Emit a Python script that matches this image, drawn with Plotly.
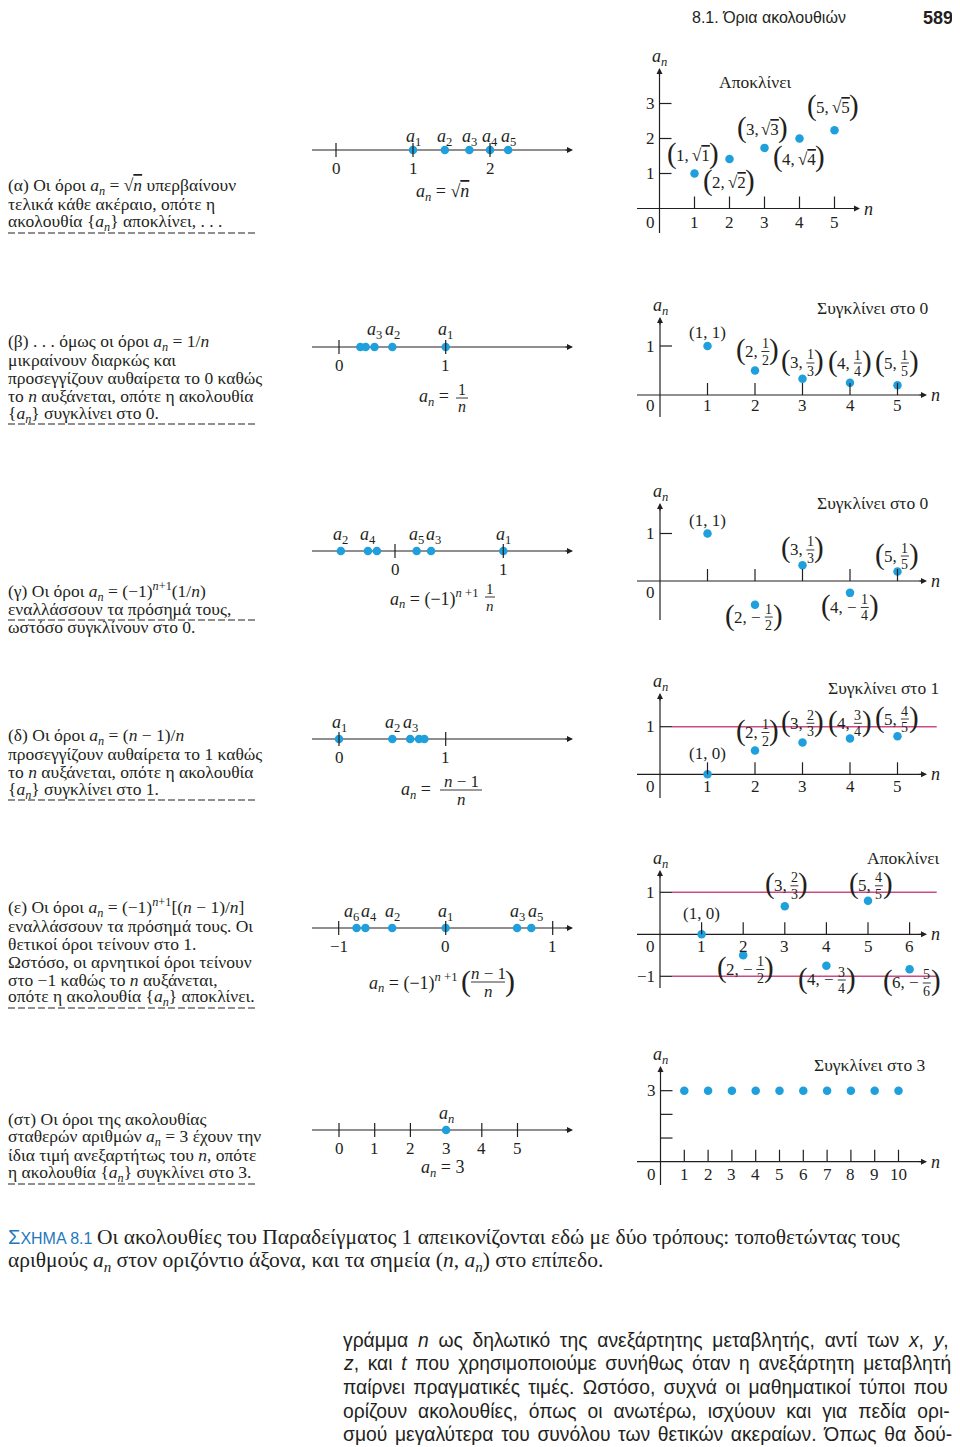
import plotly.graph_objects as go

PAGE_W, PAGE_H = 960, 1447
OFF = 8                      # the page body margin
W, H = PAGE_W - OFF, PAGE_H - OFF
SERIF = "Liberation Serif, Times New Roman, serif"
SANS = "Liberation Sans, Arial, sans-serif"
INK = "#231f20"
DOT = "#1f9fdb"
PINK = "#cc4a86"
BLUE = "#1f78bd"
OVL = '<span style="text-decoration:overline">%s</span>'

# ---------------- data ----------------
# (α) a_n = sqrt(n)
alpha_n = [1, 2, 3, 4, 5]
alpha_an = [1.0, 1.414, 1.732, 2.0, 2.236]
alpha_line_ticks = [0, 1, 2]
alpha_x_ticks = [1, 2, 3, 4, 5]
alpha_y_ticks = [1, 2, 3]
alpha_line_labels = [1, 2, 3, 4, 5]
alpha_pt_text = [("root", "1,", "1"), ("root", "2,", "2"), ("root", "3,", "3"),
                 ("root", "4,", "4"), ("root", "5,", "5")]

# (β) a_n = 1/n
beta_n = [1, 2, 3, 4, 5]
beta_an = [1.0, 0.5, 0.333, 0.25, 0.2]
beta_line_ticks = [0, 1]
beta_x_ticks = [1, 2, 3, 4, 5]
beta_y_ticks = [1]
beta_line_labels = [1, 2, 3]
beta_pt_text = [("plain", "(1, 1)"), ("frac", "2,", "1", "2"), ("frac", "3,", "1", "3"),
                ("frac", "4,", "1", "4"), ("frac", "5,", "1", "5")]

# (γ) a_n = (-1)^(n+1) (1/n)
gamma_n = [1, 2, 3, 4, 5]
gamma_an = [1.0, -0.5, 0.333, -0.25, 0.2]
gamma_line_vals = [1.0, -0.5, 0.333, -0.25, 0.2, -0.167]
gamma_line_ticks = [0, 1]
gamma_x_ticks = [1, 2, 3, 4, 5]
gamma_y_ticks = [1]
gamma_line_labels = [1, 2, 3, 4, 5]
gamma_pt_text = [("plain", "(1, 1)"), ("frac", "2, −", "1", "2"), ("frac", "3,", "1", "3"),
                 ("frac", "4, −", "1", "4"), ("frac", "5,", "1", "5")]

# (δ) a_n = (n-1)/n
delta_n = [1, 2, 3, 4, 5]
delta_an = [0.0, 0.5, 0.667, 0.75, 0.8]
delta_line_ticks = [0, 1]
delta_x_ticks = [1, 2, 3, 4, 5]
delta_y_ticks = [1]
delta_limits = [1]
delta_line_labels = [1, 2, 3]
delta_pt_text = [("plain", "(1, 0)"), ("frac", "2,", "1", "2"), ("frac", "3,", "2", "3"),
                 ("frac", "4,", "3", "4"), ("frac", "5,", "4", "5")]

# (ε) a_n = (-1)^(n+1) ((n-1)/n)
eps_n = [1, 2, 3, 4, 5, 6]
eps_an = [0.0, -0.5, 0.667, -0.75, 0.8, -0.833]
eps_line_ticks = [-1, 0, 1]
eps_x_ticks = [1, 2, 3, 4, 5, 6]
eps_y_ticks = [1, -1]
eps_limits = [1, -1]
eps_line_labels = [1, 2, 3, 4, 5, 6]
eps_pt_text = [("plain", "(1, 0)"), ("frac", "2, −", "1", "2"), ("frac", "3,", "2", "3"),
               ("frac", "4, −", "3", "4"), ("frac", "5,", "4", "5"), ("frac", "6, −", "5", "6")]

# (στ) a_n = 3
st_n = [1, 2, 3, 4, 5, 6, 7, 8, 9, 10]
st_an = [3, 3, 3, 3, 3, 3, 3, 3, 3, 3]
st_line_vals = [3]
st_line_tick_marks = [0, 1, 2, 4, 5]
st_line_tick_labels = [0, 1, 2, 3, 4, 5]
st_x_ticks = [1, 2, 3, 4, 5, 6, 7, 8, 9, 10]
st_y_ticks = [1, 2, 3]
st_y_tick_labels = [3]

left_texts = {
    "a": ["(α) Οι όροι <i>a<sub>n</sub></i> = √" + OVL % "<i>n</i>" + " υπερβαίνουν",
          "τελικά κάθε ακέραιο, οπότε η",
          "ακολουθία {<i>a<sub>n</sub></i>} αποκλίνει, . . ."],
    "b": ["(β) . . . όμως οι όροι <i>a<sub>n</sub></i> = 1/<i>n</i>",
          "μικραίνουν διαρκώς και",
          "προσεγγίζουν αυθαίρετα το 0 καθώς",
          "το <i>n</i> αυξάνεται, οπότε η ακολουθία",
          "{<i>a<sub>n</sub></i>} συγκλίνει στο 0."],
    "g": ["(γ) Οι όροι <i>a<sub>n</sub></i> = (−1)<sup><i>n</i>+1</sup>(1/<i>n</i>)",
          "εναλλάσσουν τα πρόσημά τους,",
          "ωστόσο συγκλίνουν στο 0."],
    "d": ["(δ) Οι όροι <i>a<sub>n</sub></i> = (<i>n</i> − 1)/<i>n</i>",
          "προσεγγίζουν αυθαίρετα το 1 καθώς",
          "το <i>n</i> αυξάνεται, οπότε η ακολουθία",
          "{<i>a<sub>n</sub></i>} συγκλίνει στο 1."],
    "e": ["(ε) Οι όροι <i>a<sub>n</sub></i> = (−1)<sup><i>n</i>+1</sup>[(<i>n</i> − 1)/<i>n</i>]",
          "εναλλάσσουν τα πρόσημά τους. Οι",
          "θετικοί όροι τείνουν στο 1.",
          "Ωστόσο, οι αρνητικοί όροι τείνουν",
          "στο −1 καθώς το <i>n</i> αυξάνεται,",
          "οπότε η ακολουθία {<i>a<sub>n</sub></i>} αποκλίνει."],
    "s": ["(στ) Οι όροι της ακολουθίας",
          "σταθερών αριθμών <i>a<sub>n</sub></i> = 3 έχουν την",
          "ίδια τιμή ανεξαρτήτως του <i>n</i>, οπότε",
          "η ακολουθία {<i>a<sub>n</sub></i>} συγκλίνει στο 3."],
}
conv_texts = {"a": "Αποκλίνει", "b": "Συγκλίνει στο 0", "g": "Συγκλίνει στο 0",
              "d": "Συγκλίνει στο 1", "e": "Αποκλίνει", "s": "Συγκλίνει στο 3"}
header_text = "8.1. Όρια ακολουθιών"
page_number = "589"
caption_tag = '<span style="font-size:20px">Σ</span>ΧΗΜΑ 8.1'
caption_lines = ["Οι ακολουθίες του Παραδείγματος 1 απεικονίζονται εδώ με δύο τρόπους: τοποθετώντας τους",
                 "αριθμούς <i>a<sub>n</sub></i> στον οριζόντιο άξονα, και τα σημεία (<i>n</i>, <i>a<sub>n</sub></i>) στο επίπεδο."]
body_lines = ["γράμμα <i>n</i> ως δηλωτικό της ανεξάρτητης μεταβλητής, αντί των <i>x</i>, <i>y</i>,",
              "<i>z</i>, και <i>t</i> που χρησιμοποιούμε συνήθως όταν η ανεξάρτητη μεταβλητή",
              "παίρνει πραγματικές τιμές. Ωστόσο, συχνά οι μαθηματικοί τύποι που",
              "ορίζουν ακολουθίες, όπως οι ανωτέρω, ισχύουν και για πεδία ορι-",
              "σμού μεγαλύτερα του συνόλου των θετικών ακεραίων. Όπως θα δού-"]
# extra word spacing (px) so each body line is justified to the right margin
body_word_spacing = [4.4, 3.3, 2.9, 5.6, 2.3]

# ---------------- helpers ----------------
ann, shapes, traces, axes_layout = [], [], [], {}


def px(x):
    return (x - OFF) / W


def py(y):
    return 1 - (y - OFF) / H


def T(x, y, text, size=17, xa="center", ya="middle", fam=SERIF, color=INK):
    ann.append(dict(x=px(x), y=py(y), xref="paper", yref="paper", text=text, showarrow=False,
                    xanchor=xa, yanchor=ya, borderpad=0, borderwidth=0,
                    font=dict(family=fam, size=size, color=color)))


def seg_px(x0, y0, x1, y1, color=INK, width=1.0, dash=None):
    ln = dict(color=color, width=width)
    if dash:
        ln["dash"] = dash
    shapes.append(dict(type="line", xref="paper", yref="paper", x0=px(x0), y0=py(y0),
                       x1=px(x1), y1=py(y1), line=ln, layer="above"))


_k = [0]


def panel(ox, ux, oy, uy, L, R, Tp, B):
    _k[0] += 1
    i = _k[0]
    s = "" if i == 1 else str(i)
    axes_layout["xaxis" + s] = dict(domain=[px(L), px(R)], range=[(L - ox) / ux, (R - ox) / ux],
                                    visible=False, fixedrange=True, anchor="y" + s)
    axes_layout["yaxis" + s] = dict(domain=[py(B), py(Tp)], range=[(oy - B) / uy, (oy - Tp) / uy],
                                    visible=False, fixedrange=True, anchor="x" + s)
    return dict(xa="x" + s, ya="y" + s, ox=ox, ux=ux, oy=oy, uy=uy)


def to_px(p, x, y):
    return p["ox"] + p["ux"] * x, p["oy"] - p["uy"] * y


def dseg(p, x0, y0, x1, y1, color=INK, width=1.1, layer="above"):
    shapes.append(dict(type="line", xref=p["xa"], yref=p["ya"], x0=x0, y0=y0, x1=x1, y1=y1,
                       line=dict(color=color, width=width), layer=layer))


def arrow(p, x0, y0, x1, y1):
    ann.append(dict(x=x1, y=y1, ax=x0, ay=y0, xref=p["xa"], yref=p["ya"], axref=p["xa"],
                    ayref=p["ya"], text="", showarrow=True, arrowhead=2, arrowsize=1.0,
                    arrowwidth=1.2, arrowcolor=INK, standoff=0))


def dots(p, xs, ys, size=8.5):
    traces.append(go.Scatter(x=xs, y=ys, xaxis=p["xa"], yaxis=p["ya"], mode="markers",
                             marker=dict(size=size, color=DOT), cliponaxis=False,
                             hoverinfo="skip", showlegend=False))


FW = {",": .25, " ": .25, "−": .564, "√": .549}


def tw(s, fs):
    return sum(FW.get(c, .5) for c in s) * fs


def paren_label(cx, cy, spec, fs=17, pfs=29, ffs=14):
    kind = spec[0]
    if kind == "plain":
        T(cx, cy, spec[1], size=fs)
        return
    pw = 0.28 * pfs
    gap = 3
    prefix = spec[1]
    if kind == "frac":
        num, den = spec[2], spec[3]
        wf = max(tw(num, ffs), tw(den, ffs)) + 3
    else:
        wf = tw("√" + spec[2], fs)
    wp = tw(prefix, fs)
    total = 2 * pw + wp + gap + wf
    x0 = cx - total / 2
    T(x0 + pw / 2, cy - 2, "(", size=pfs)
    T(x0 + pw + wp / 2, cy, prefix, size=fs)
    xf = x0 + pw + wp + gap
    if kind == "frac":
        T(xf + wf / 2, cy - 8, num, size=ffs)
        T(xf + wf / 2, cy + 8.5, den, size=ffs)
        seg_px(xf + 1, cy, xf + wf - 1, cy, width=0.9)
    else:
        T(xf + wf / 2, cy, "√" + OVL % spec[2], size=fs)
    T(x0 + total - pw / 2, cy - 2, ")", size=pfs)


def sub_a(k):
    return "<i>a</i><sub>%s</sub>" % k


AN = "<i>a<sub>n</sub></i>"


def number_line(ox, ux, oy, vals, tick_marks, tick_labels, lab_idx, lab_dy=-16, lab_dx=None):
    p = panel(ox, ux, oy, 1, 300, 590, oy - 50, oy + 60)
    x_l, x_r = (312 - ox) / ux, (573 - ox) / ux
    dseg(p, x_l, 0, x_r - 4 / ux, 0, width=1.2, layer="below")
    arrow(p, x_r - 9 / ux, 0, x_r, 0)
    dots(p, vals, [0 for _ in vals])
    for t in tick_marks:
        dseg(p, t, -7, t, 7, width=1.2)
    for t in tick_labels:
        X, Y = to_px(p, t, 0)
        T(X, Y + 18, str(t).replace("-", "−"), size=17)
    for j, k in enumerate(lab_idx):
        X, Y = to_px(p, vals[k - 1], 0)
        dx = lab_dx[j] if lab_dx else 0
        T(X + dx, Y + lab_dy, sub_a(k), size=18)
    return p


def scatter_panel(ox, ux, oy, uy, ytop, ybot, x_end, ns, vals, xticks, xlabels, yticks, ylabels,
                  texts, offsets, conv, conv_xy, limits=(), xl_dy=12.5, zero_dy=12.5):
    p = panel(ox, ux, oy, uy, 625, 955, ytop - 25, ybot + 10)
    x_l, x_r = (637 - ox) / ux, (x_end - ox) / ux
    y_b, y_t = (oy - ybot) / uy, (oy - ytop) / uy
    for lv in limits:
        dseg(p, 12 / ux, lv, (936.7 - ox) / ux, lv, color=PINK, width=1.4, layer="below")
    dseg(p, x_l, 0, x_r - 4 / ux, 0, width=1.2, layer="below")
    arrow(p, x_r - 9 / ux, 0, x_r, 0)
    dseg(p, 0, y_b, 0, y_t - 4 / uy, width=1.2, layer="below")
    arrow(p, 0, y_t - 9 / uy, 0, y_t)
    for t in xticks:
        dseg(p, t, 0, t, 12 / uy, width=1.2)
    for t in yticks:
        dseg(p, 0, t, 12 / ux, t, width=1.2)
    for t in xlabels:
        X, Y = to_px(p, t, 0)
        T(X, Y + xl_dy, str(t), size=17)
    for t in ylabels:
        X, Y = to_px(p, 0, t)
        T(X - 5, Y, str(t).replace("-", "−"), size=17, xa="right")
    T(ox - 5, oy + zero_dy, "0", size=17, xa="right")
    T(x_end + 4, oy, "<i>n</i>", size=18, xa="left")
    T(ox, ytop - 11, AN, size=18)
    dots(p, ns, vals)
    for spec, (dx, dy), n, v in zip(texts, offsets, ns, vals):
        X, Y = to_px(p, n, v)
        paren_label(X + dx, Y + dy, spec)
    T(conv_xy[0], conv_xy[1], conv, size=17.5)
    return p


def left_block(lines, y0, dash_y):
    for i, s in enumerate(lines):
        T(8, y0 + 18 * i, s, size=17.5, xa="left")
    seg_px(8, dash_y, 258, dash_y, width=1.0, dash="7px,3px")


# ---------------- row (α) ----------------
left_block(left_texts["a"], 186, 233)
number_line(336, 77, 150, alpha_an, alpha_line_ticks, alpha_line_ticks, alpha_line_labels, lab_dy=-13)
T(442, 192, AN + " = √" + OVL % "<i>n</i>", size=18)
scatter_panel(659.5, 35, 208.5, 35, 68, 233, 860, alpha_n, alpha_an, alpha_x_ticks, alpha_x_ticks,
              alpha_y_ticks, alpha_y_ticks, alpha_pt_text,
              [(-1.5, -18), (-0.5, 23.5), (-2, -18), (-0.5, 20.5), (-1.5, -22.7)],
              conv_texts["a"], (755, 82), xl_dy=13.5, zero_dy=13.5)

# ---------------- row (β) ----------------
left_block(left_texts["b"], 342, 424)
number_line(339, 106.7, 347, beta_an, beta_line_ticks, beta_line_ticks, beta_line_labels, lab_dy=-17)
T(434, 398, AN + " =", size=18)
T(462, 389, "1", size=16)
T(462, 407, "<i>n</i>", size=16)
seg_px(456, 398, 468, 398, width=0.9)
scatter_panel(660, 47.5, 395, 49, 317, 417, 927, beta_n, beta_an, beta_x_ticks, beta_x_ticks,
              beta_y_ticks, beta_y_ticks, beta_pt_text,
              [(0, -13.5), (2.5, -19), (0, -15.7), (0, -19.7), (-0.5, -22.2)],
              conv_texts["b"], (873, 308), xl_dy=10.5, zero_dy=10.5)

# ---------------- row (γ) ----------------
left_block(left_texts["g"], 591, 620)
number_line(395, 108.3, 551, gamma_line_vals, gamma_line_ticks, gamma_line_ticks, gamma_line_labels,
            lab_dx=[0, 0, 2, 0, 0])
T(434, 598, AN + " = (−1)<sup><i>n</i> +1</sup>", size=18)
T(490, 589, "1", size=15)
T(490, 606, "<i>n</i>", size=15)
seg_px(485, 597, 495, 597, width=0.9)
scatter_panel(660, 47.5, 581, 47.5, 503, 620, 927, gamma_n, gamma_an, gamma_x_ticks, [],
              gamma_y_ticks, gamma_y_ticks, gamma_pt_text,
              [(0, -13.5), (-1, 12.3), (0, -15.2), (0, 14.6), (-0.5, -15.5)],
              conv_texts["g"], (873, 503), zero_dy=11)

# ---------------- row (δ) ----------------
left_block(left_texts["d"], 736, 800)
number_line(339, 106.7, 739, delta_an, delta_line_ticks, delta_line_ticks, delta_line_labels)
T(416, 791, AN + " =", size=18)
T(461, 782, "<i>n</i> − 1", size=17)
T(461, 799, "<i>n</i>", size=17)
seg_px(440, 790, 482, 790, width=0.9)
scatter_panel(660, 47.5, 774.3, 47.6, 693, 798, 927, delta_n, delta_an, delta_x_ticks, delta_x_ticks,
              delta_y_ticks, delta_y_ticks, delta_pt_text,
              [(0, -21), (2.5, -18), (0, -19.3), (0, -15.3), (-0.5, -17.2)],
              conv_texts["d"], (883, 688), limits=delta_limits)

# ---------------- row (ε) ----------------
left_block(left_texts["e"], 908, 1008)
number_line(445.7, 107, 928, eps_an, eps_line_ticks, eps_line_ticks, eps_line_labels,
            lab_dx=[0, 0, 0, 4, 4, -5])
T(413, 983, AN + " = (−1)<sup><i>n</i> +1</sup>", size=18)
T(466, 981, "(", size=30)
T(510, 981, ")", size=30)
T(488, 974, "<i>n</i> − 1", size=17)
T(488, 991, "<i>n</i>", size=17)
seg_px(471, 982, 505, 982, width=0.9)
scatter_panel(660, 41.6, 934.3, 42, 870, 988, 927, eps_n, eps_an, eps_x_ticks, eps_x_ticks,
              eps_y_ticks, eps_y_ticks, eps_pt_text,
              [(0, -21), (2.3, 14.2), (1.7, -20.5), (0.6, 14.2), (3, -14.9), (2.4, 13.7)],
              conv_texts["e"], (903, 858), limits=eps_limits, xl_dy=12, zero_dy=12)

# ---------------- row (στ) ----------------
left_block(left_texts["s"], 1119, 1184)
p_st = number_line(339, 35.7, 1130, st_line_vals, st_line_tick_marks, st_line_tick_labels, [])
Xs, Ys = to_px(p_st, st_line_vals[0], 0)
T(Xs, Ys - 16, AN, size=18)
T(442, 1168, AN + " = 3", size=18)
scatter_panel(660.5, 23.8, 1161.7, 23.67, 1066, 1185, 927, st_n, st_an, st_x_ticks, st_x_ticks,
              st_y_ticks, st_y_tick_labels, [], [], conv_texts["s"], (870, 1065))

# ---------------- page texts ----------------
T(769, 17, header_text, size=16, fam=SANS)
T(938, 18, "<b>%s</b>" % page_number, size=18, fam=SANS)
T(8, 1237, caption_tag, size=16, fam=SANS, xa="left", color=BLUE)
T(97, 1237, caption_lines[0], size=21.5, xa="left")
T(8, 1261, caption_lines[1], size=21.5, xa="left")
for i, (s, wsp) in enumerate(zip(body_lines, body_word_spacing)):
    T(343, 1340 + 23.7 * i, '<span style="word-spacing:%.1fpx">%s</span>' % (wsp, s),
      size=19.3, fam=SANS, xa="left")

fig = go.Figure(traces)
fig.update_layout(width=W, height=H, autosize=False, margin=dict(l=0, r=0, t=0, b=0),
                  paper_bgcolor="white", plot_bgcolor="rgba(0,0,0,0)", showlegend=False,
                  annotations=ann, shapes=shapes, **axes_layout)
fig.write_html("out.html", config={"displayModeBar": False, "staticPlot": True})
